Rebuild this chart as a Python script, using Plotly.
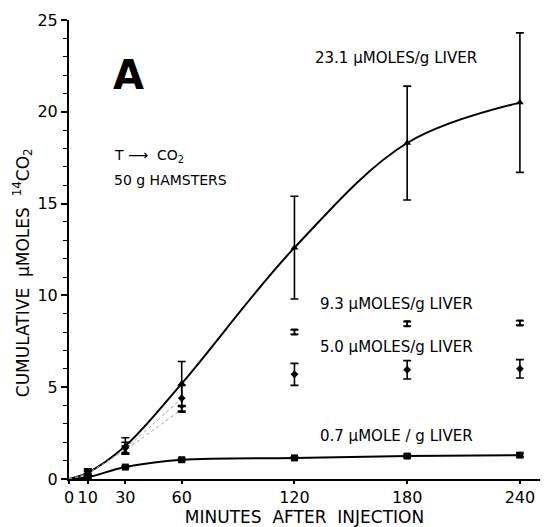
import plotly.graph_objects as go

# Sampling times (minutes after injection)
minutes = [10, 30, 60, 120, 180, 240]

# Cumulative 14CO2 (µmoles) for each liver dose, with standard errors
dose_23_1 = [0.35, 1.8, 5.2, 12.6, 18.3, 20.5]
err_23_1 = [0.2, 0.45, 1.2, 2.8, 3.1, 3.8]

dose_9_3 = [0.35, 1.6, 3.8, 8.0, 8.45, 8.5]
err_9_3 = [0.1, 0.2, 0.15, 0.12, 0.12, 0.12]

dose_5_0 = [0.3, 1.7, 4.4, 5.7, 5.95, 6.0]
err_5_0 = [0.1, 0.3, 0.7, 0.6, 0.5, 0.5]

dose_0_7 = [0.1, 0.65, 1.05, 1.15, 1.25, 1.3]
err_0_7 = [0.05, 0.05, 0.05, 0.05, 0.07, 0.1]

x_ticks = [0, 10, 30, 60, 120, 180, 240]

FONT = "DejaVu Sans"
INK = "black"

fig = go.Figure()

# Fitted curves through the origin
for vals in (dose_23_1, dose_0_7):
    fig.add_trace(go.Scatter(
        x=[0] + minutes, y=[0] + vals, mode="lines",
        line=dict(color=INK, width=2, shape="spline", smoothing=1.0),
        hoverinfo="skip", showlegend=False))

# Early-time dotted fits for the intermediate doses
for vals in (dose_9_3, dose_5_0):
    fig.add_trace(go.Scatter(
        x=[0] + minutes[:3], y=[0] + vals[:3], mode="lines",
        line=dict(color="#999999", width=1, dash="dot", shape="spline"),
        hoverinfo="skip", showlegend=False))

def points(vals, errs, symbol, size):
    fig.add_trace(go.Scatter(
        x=minutes, y=vals, mode="markers",
        marker=dict(symbol=symbol, size=size, color=INK),
        error_y=dict(type="data", array=errs, visible=True,
                     color=INK, thickness=1.6, width=4),
        showlegend=False))

points(dose_23_1, err_23_1, "triangle-up", 7)
points(dose_9_3, err_9_3, "hourglass", 7)
points(dose_5_0, err_5_0, "diamond", 6)
points(dose_0_7, err_0_7, "square", 7)

def label(text, x, y, size=15, anchor="left", bold=False):
    fig.add_annotation(
        x=x, y=y, xref="x", yref="y", text=f"<b>{text}</b>" if bold else text,
        showarrow=False, xanchor=anchor, yanchor="middle",
        font=dict(family=FONT, size=size, color=INK))

label("A", 31.5, 22.0, size=40, anchor="center", bold=True)
label("T \u27f6  CO<sub>2</sub>", 23.0, 17.6, size=14)
label("50 g HAMSTERS", 23.0, 16.3, size=14)
label("23.1 \u00b5MOLES/g LIVER", 130, 22.95)
label("9.3 \u00b5MOLES/g LIVER", 132.5, 9.55)
label("5.0 \u00b5MOLES/g LIVER", 132.5, 7.2)
label("0.7 \u00b5MOLE / g LIVER", 132.5, 2.35)

# Y axis title placed as rotated text
fig.add_annotation(
    xref="paper", yref="paper", x=-0.097, y=0.449,
    text="CUMULATIVE&nbsp;&nbsp;\u00b5MOLES&nbsp;&nbsp;<sup>14</sup>CO<sub>2</sub>",
    textangle=-90, showarrow=False, xanchor="center", yanchor="middle",
    font=dict(family=FONT, size=17, color=INK))

fig.update_layout(
    width=544, height=527,
    margin=dict(l=69, r=4, t=20, b=42),
    paper_bgcolor="white", plot_bgcolor="white",
    font=dict(family=FONT, size=16, color=INK),
    xaxis=dict(
        range=[0, 250.7], tickvals=x_ticks, ticktext=[str(v) for v in x_ticks],
        showgrid=False, zeroline=False, showline=True, linecolor=INK,
        linewidth=2, ticks="outside", ticklen=3, tickwidth=1.5, tickcolor=INK,
        title=dict(text="MINUTES&nbsp;&nbsp;AFTER&nbsp;&nbsp;INJECTION", standoff=4,
                   font=dict(family=FONT, size=17, color=INK)),
        tickfont=dict(family=FONT, size=16, color=INK)),
    yaxis=dict(
        range=[0, 25], tickvals=[0, 5, 10, 15, 20, 25],
        showgrid=False, zeroline=False, showline=True, linecolor=INK,
        linewidth=2, ticks="outside", ticklen=6, tickwidth=1.5, tickcolor=INK,
        minor=dict(dtick=1, ticks="outside", ticklen=4, tickwidth=1.2,
                   tickcolor=INK, showgrid=False),
        tickfont=dict(family=FONT, size=16, color=INK)),
)

fig.write_html("out.html")
